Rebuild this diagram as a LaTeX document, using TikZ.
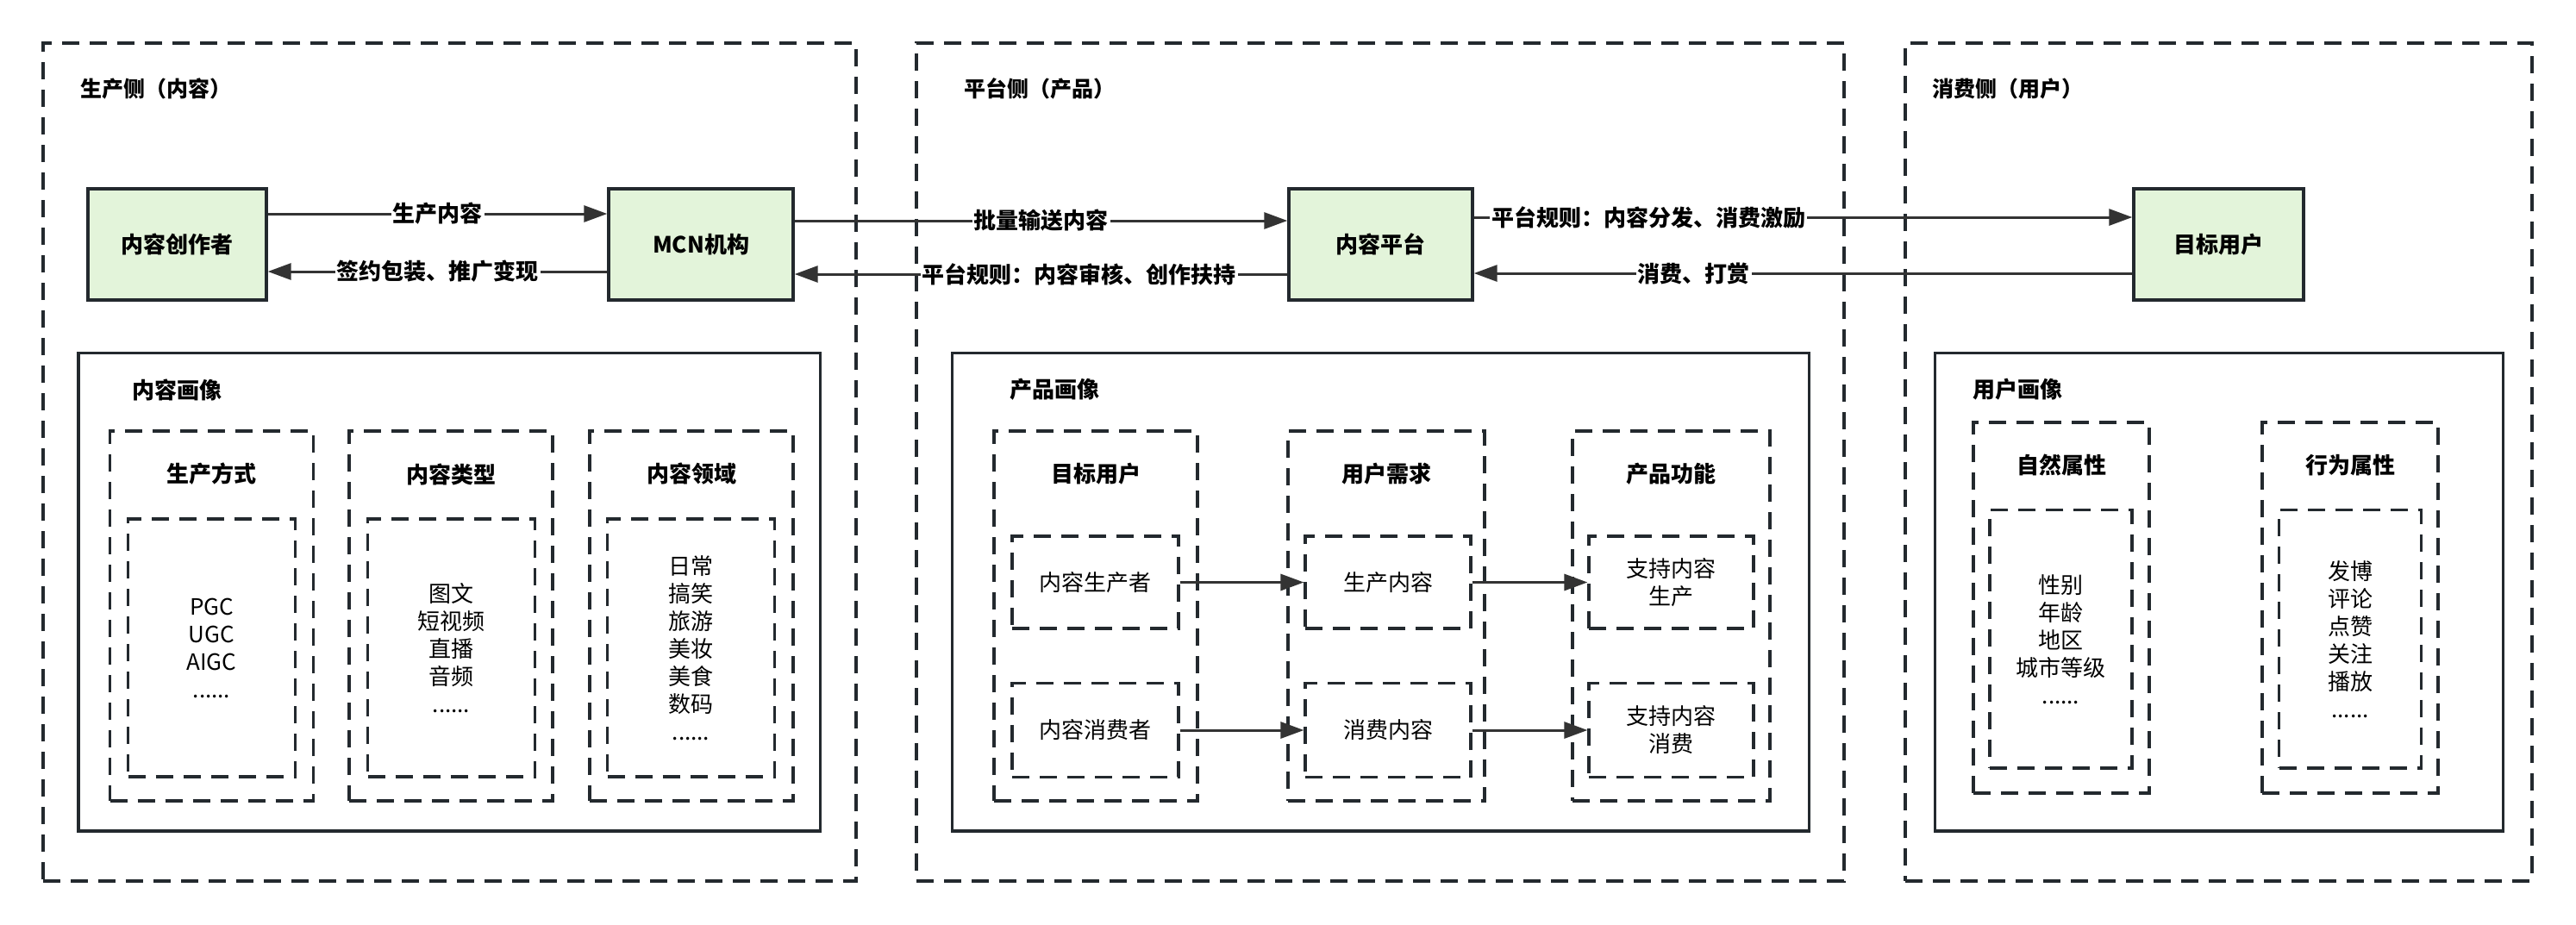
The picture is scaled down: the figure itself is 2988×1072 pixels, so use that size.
\documentclass[tikz,border=0pt]{standalone}
\usepackage{fontspec}
\setmainfont{Noto Sans CJK SC}
\usetikzlibrary{arrows.meta}
\definecolor{linec}{HTML}{23292E}
\definecolor{arrc}{HTML}{333333}
\definecolor{greenfill}{HTML}{E3F4DA}
\tikzset{
  region/.style={draw=linec, line width=1.75pt, dash pattern=on 10pt off 6pt, inner sep=0pt},
  panel/.style={draw=linec, line width=1.65pt, inner sep=0pt},
  colbox/.style={draw=linec, line width=1.6pt, dash pattern=on 10pt off 6pt, inner sep=0pt},
  greenbox/.style={draw=linec, fill=greenfill, line width=1.7pt, inner sep=0pt, minimum height=64.5pt, font=\fontsize{13pt}{16pt}\selectfont\bfseries},
  rtitle/.style={anchor=west, inner sep=0pt, font=\fontsize{12.5pt}{15pt}\selectfont\bfseries},
  ptitle/.style={anchor=west, inner sep=0pt, font=\fontsize{13pt}{16pt}\selectfont\bfseries},
  head/.style={inner sep=0pt, font=\fontsize{13pt}{16pt}\selectfont\bfseries},
  content/.style={align=center, font=\fontsize{13pt}{16pt}\selectfont},
  arr/.style={draw=arrc, line width=1.5pt, -{Triangle[length=13.5pt,width=9.5pt]}},
  lbl/.style={fill=white, inner sep=1pt, font=\fontsize{13pt}{16pt}\selectfont\bfseries},
}
\begin{document}
\begin{tikzpicture}[x=0.5pt,y=-0.5pt]
\useasboundingbox (0,0) rectangle (2988,1072);
% regions
\node[region, minimum width=471.5pt, minimum height=486pt] (r1) at (521.5,536) {};
\node[region, minimum width=538pt, minimum height=486pt] (r2) at (1601,536) {};
\node[region, minimum width=363.5pt, minimum height=486pt] (r3) at (2573.5,536) {};
\node[rtitle] (t1) at (93,103) {生产侧（内容）};
\node[rtitle] (t2) at (1118,103) {平台侧（产品）};
\node[rtitle] (t3) at (2241,103) {消费侧（用户）};
% main boxes
\node[greenbox, minimum width=103.5pt] (cre) at (205.5,283.5) {内容创作者};
\node[greenbox, minimum width=107pt] (mcn) at (813,283.5) {MCN机构};
\node[greenbox, minimum width=106.5pt] (plat) at (1601.5,283.5) {内容平台};
\node[greenbox, minimum width=98.5pt] (tgt) at (2573.5,283.5) {目标用户};
% helper coordinates for arrow heights
\coordinate (ya) at (0,248);
\coordinate (yb) at (0,315);
\coordinate (yc) at (0,256);
\coordinate (yd) at (0,318);
\coordinate (ye) at (0,252);
\coordinate (yf) at (0,317);
\draw[arr] (cre.east |- ya) -- node[lbl, midway] {生产内容} (mcn.west |- ya);
\draw[arr] (mcn.west |- yb) -- node[lbl, midway] {签约包装、推广变现} (cre.east |- yb);
\draw[arr] (mcn.east |- yc) -- node[lbl, midway] {批量输送内容} (plat.west |- yc);
\draw[arr] (plat.west |- yd) -- node[lbl, pos=0.423] {平台规则：内容审核、创作扶持} (mcn.east |- yd);
\draw[arr] (plat.east |- ye) -- node[lbl, pos=0.265] {平台规则：内容分发、消费激励} (tgt.west |- ye);
\draw[arr] (tgt.west |- yf) -- node[lbl, pos=0.666] {消费、打赏} (plat.east |- yf);
% panels
\node[panel, minimum width=430.25pt, minimum height=277.25pt] (p1) at (521.25,686.75) {};
\node[panel, minimum width=497pt, minimum height=277.25pt] (p2) at (1601.7,686.75) {};
\node[panel, minimum width=329.5pt, minimum height=277.25pt] (p3) at (2574.1,686.75) {};
\node[ptitle] (pt1) at (153,452) {内容画像};
\node[ptitle] (pt2) at (1171,452) {产品画像};
\node[ptitle] (pt3) at (2288,452) {用户画像};
% panel 1 columns
\node[colbox, minimum width=118pt, minimum height=214.5pt] (c11) at (245.5,714.5) {};
\node[colbox, minimum width=118pt, minimum height=214.5pt] (c12) at (523,714.5) {};
\node[colbox, minimum width=118pt, minimum height=214.5pt] (c13) at (802,714.5) {};
\node[head] (h11) at (245.5,550) {生产方式};
\node[head] (h12) at (523,550) {内容类型};
\node[head] (h13) at (802,550) {内容领域};
\node[colbox, content, minimum width=97pt, minimum height=149.5pt] (i11) at (245.5,751.5) {PGC\\UGC\\AIGC\\......};
\node[colbox, content, minimum width=97pt, minimum height=149.5pt] (i12) at (523.5,751.5) {图文\\短视频\\直播\\音频\\......};
\node[colbox, content, minimum width=97pt, minimum height=149.5pt] (i13) at (801.5,751.5) {日常\\搞笑\\旅游\\美妆\\美食\\数码\\......};
% panel 2 columns
\node[colbox, minimum width=118pt, minimum height=214.5pt] (c21) at (1271,714.5) {};
\node[colbox, minimum width=114pt, minimum height=214.5pt] (c22) at (1608,714.5) {};
\node[colbox, minimum width=114.5pt, minimum height=214.5pt] (c23) at (1938.5,714.5) {};
\node[head] (h21) at (1271,550) {目标用户};
\node[head] (h22) at (1608,550) {用户需求};
\node[head] (h23) at (1938.5,550) {产品功能};
\node[colbox, content, minimum width=96.5pt, minimum height=53.5pt] (a1) at (1270.5,675.5) {内容生产者};
\node[colbox, content, minimum width=96.5pt, minimum height=54.75pt] (a2) at (1270.5,847) {内容消费者};
\node[colbox, content, minimum width=96pt, minimum height=53.5pt] (b1) at (1610,675.5) {生产内容};
\node[colbox, content, minimum width=96pt, minimum height=54.75pt] (b2) at (1610,847) {消费内容};
\node[colbox, content, minimum width=95.5pt, minimum height=53.5pt] (d1) at (1938.5,675.5) {支持内容\\生产};
\node[colbox, content, minimum width=95.5pt, minimum height=54.75pt] (d2) at (1938.5,847) {支持内容\\消费};
\draw[arr] (a1) -- (b1);
\draw[arr] (a2) -- (b2);
\draw[arr] (b1) -- (d1);
\draw[arr] (b2) -- (d2);
% panel 3 columns
\node[colbox, minimum width=102pt, minimum height=215pt] (c31) at (2391,705) {};
\node[colbox, minimum width=102pt, minimum height=215pt] (c32) at (2726,705) {};
\node[head] (h31) at (2391,540) {自然属性};
\node[head] (h32) at (2726,540) {行为属性};
\node[colbox, content, minimum width=82.5pt, minimum height=149.65pt] (i31) at (2390.5,741.3) {性别\\年龄\\地区\\城市等级\\......};
\node[colbox, content, minimum width=82.5pt, minimum height=149.65pt] (i32) at (2726,741.3) {发博\\评论\\点赞\\关注\\播放\\......};
\end{tikzpicture}
\end{document}
